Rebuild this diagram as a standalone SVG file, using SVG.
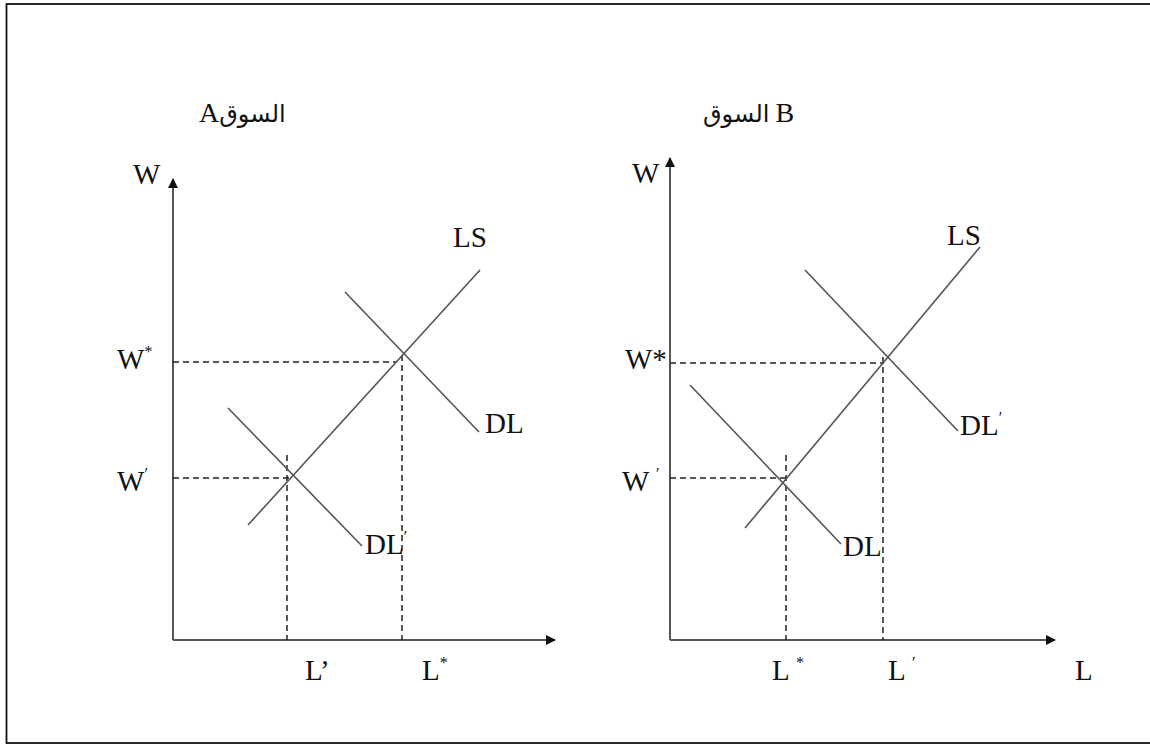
<svg xmlns="http://www.w3.org/2000/svg" width="1150" height="745" viewBox="0 0 1150 745">
<style>
.t{font-family:"Liberation Serif","DejaVu Sans",serif;font-size:29px;fill:#111}
.ar{font-family:"Liberation Serif","DejaVu Sans",serif;font-size:24px;fill:#111}
.lat{font-size:28px}
.sup{font-size:16px}
.ax{stroke:#555;stroke-width:2;fill:none}
.cv{stroke:#555;stroke-width:1.6;fill:none}
.ds{stroke:#222;stroke-width:1.5;stroke-dasharray:6 4;fill:none}
</style>
<defs>
<marker id="ah" viewBox="0 0 10 10" refX="9" refY="5" markerWidth="10" markerHeight="11" markerUnits="userSpaceOnUse" orient="auto">
<path d="M0,0 L10,5 L0,10 z" fill="#111"/>
</marker>
</defs>
<rect x="6.5" y="4" width="1150" height="739" fill="#fff" stroke="#111" stroke-width="1.8"/>
<g id="panelA">
<text class="ar" x="199" y="122"><tspan class="lat">A</tspan>السوق</text>
<g id="connectorsA">
<line class="ax" x1="173" y1="640" x2="173" y2="179" marker-end="url(#ah)"/>
<line class="ax" x1="173" y1="640" x2="555" y2="640" marker-end="url(#ah)"/>
<line class="ds" x1="173" y1="362" x2="396" y2="362"/>
<line class="ds" x1="402" y1="355" x2="402" y2="640"/>
<line class="ds" x1="173" y1="478" x2="292" y2="478"/>
<line class="ds" x1="287" y1="455" x2="287" y2="640"/>
</g>
<g id="LS-A"><line class="cv" x1="248" y1="525" x2="480" y2="270"/><text class="t" x="453" y="247">LS</text></g>
<g id="DL-A"><line class="cv" x1="345" y1="292" x2="479" y2="432"/><text class="t" x="485" y="433">DL</text></g>
<g id="DLp-A"><line class="cv" x1="228" y1="408" x2="362" y2="546"/><text class="t" x="365" y="554">DL<tspan class="sup" dy="-12">′</tspan></text></g>
<text class="t" x="133" y="184">W</text>
<text class="t" x="117" y="369">W<tspan class="sup" dy="-12">*</tspan></text>
<text class="t" x="117" y="491">W<tspan class="sup" dy="-12">′</tspan></text>
<text class="t" x="305" y="680">L’</text>
<text class="t" x="422" y="680">L<tspan class="sup" dy="-12">*</tspan></text>
</g>
<g id="panelB">
<text class="ar" x="703" y="122">السوق <tspan class="lat">B</tspan></text>
<g id="connectorsB">
<line class="ax" x1="670" y1="640" x2="670" y2="158" marker-end="url(#ah)"/>
<line class="ax" x1="670" y1="640" x2="1055" y2="640" marker-end="url(#ah)"/>
<line class="ds" x1="670" y1="363" x2="884" y2="363"/>
<line class="ds" x1="883" y1="357" x2="883" y2="640"/>
<line class="ds" x1="670" y1="478" x2="787" y2="478"/>
<line class="ds" x1="786" y1="455" x2="786" y2="640"/>
</g>
<g id="LS-B"><line class="cv" x1="745" y1="528" x2="980" y2="247"/><text class="t" x="947" y="245">LS</text></g>
<g id="DLp-B"><line class="cv" x1="805" y1="270" x2="958" y2="431"/><text class="t" x="960" y="435">DL<tspan class="sup" dy="-12">′</tspan></text></g>
<g id="DL-B"><line class="cv" x1="690" y1="385" x2="841" y2="544"/><text class="t" x="843" y="556">DL</text></g>
<text class="t" x="632" y="183">W</text>
<text class="t" x="625" y="369">W*</text>
<text class="t" x="622" y="491">W <tspan class="sup" dy="-12">′</tspan></text>
<text class="t" x="772" y="680">L <tspan class="sup" dy="-12">*</tspan></text>
<text class="t" x="888" y="680">L <tspan class="sup" dy="-12">′</tspan></text>
<text class="t" x="1075" y="680">L</text>
</g>
</svg>
